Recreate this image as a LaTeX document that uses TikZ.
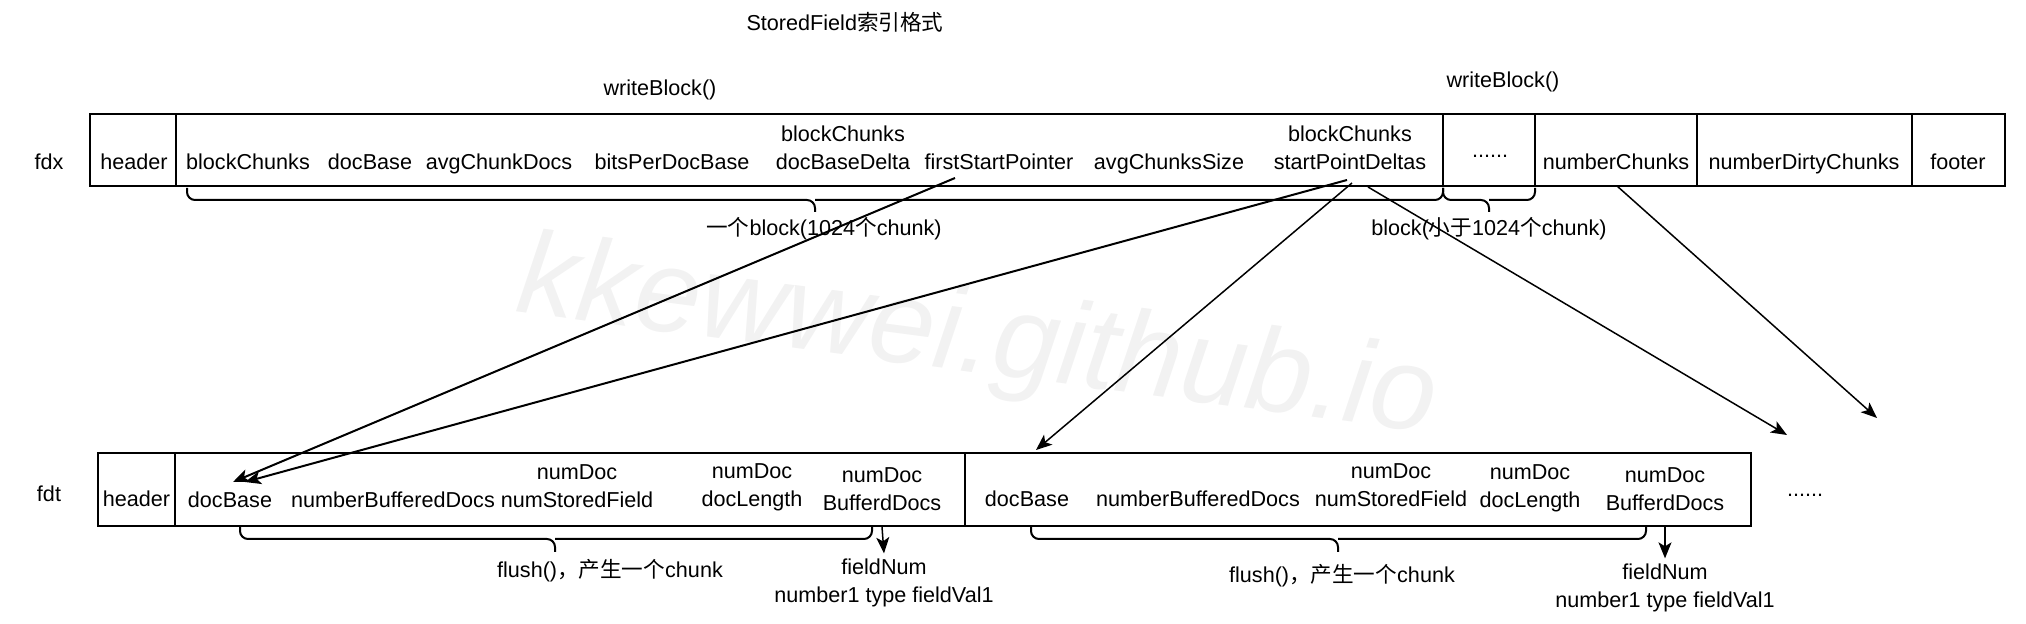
\documentclass[tikz,border=0pt]{standalone}
\usepackage{fontspec}
\setmainfont{Liberation Sans}
\newfontfamily\cjk{Noto Sans CJK SC}
\usetikzlibrary{arrows.meta,calc}
\newcommand\dfont{\fontsize{10.8}{14}\selectfont}
\begin{document}
\begin{tikzpicture}[x=0.5pt,y=-0.5pt,
  txt/.style={inner sep=0pt, outer sep=0pt, font=\dfont, align=center, anchor=base},
  cell/.style={draw, line width=1pt, inner sep=0pt},
  arr/.style={-{Stealth[length=8pt,width=6.5pt,inset=2pt]}, line width=1pt},
  arrthin/.style={arr, line width=0.75pt},
  brc/.style={line width=1pt, rounded corners=4pt},
  wm/.style={inner sep=0pt, text=black!5, font=\fontsize{59}{59}\selectfont\itshape}]
\useasboundingbox (0,0) rectangle (2026,624);
% watermark
\node[wm, rotate=-7.5] (wmk) at (977,342) {kkewwei.github.io};
% titles
\node[txt] (title) at (845,31) {StoredField{\cjk 索引格式}};
\node[txt] (wb1) at (660,96) {writeBlock()};
\node[txt] (wb2) at (1503,88) {writeBlock()};
% fdx cells
\node[cell, minimum width=43pt, minimum height=36pt] (fdxh) at (133,150) {};
\node[cell, minimum width=633.5pt, minimum height=36pt] (fdxb) at (809.5,150) {};
\node[cell, minimum width=46pt, minimum height=36pt] (fdxd) at (1489,150) {};
\node[cell, minimum width=81pt, minimum height=36pt] (fdxnc) at (1616,150) {};
\node[cell, minimum width=107.5pt, minimum height=36pt] (fdxndc) at (1804.5,150) {};
\node[cell, minimum width=46.5pt, minimum height=36pt] (fdxf) at (1958.5,150) {};
% fdx texts
\node[txt] (lfdx) at (49,170) {fdx};
\node[txt] (t1) at (134,170) {header};
\node[txt] (t2) at (248,170) {blockChunks};
\node[txt] (t3) at (370,170) {docBase};
\node[txt] (t4) at (499,170) {avgChunkDocs};
\node[txt] (t5) at (672,170) {bitsPerDocBase};
\node[txt] (t6) at (843,170) {blockChunks\\docBaseDelta};
\node[txt] (fsp) at (999,170) {firstStartPointer};
\node[txt] (t8) at (1169,170) {avgChunksSize};
\node[txt] (spd) at (1350,170) {blockChunks\\startPointDeltas};
\node[txt] (t10) at (1490,158) {......};
\node[txt] (nc) at (1616,170) {numberChunks};
\node[txt] (t12) at (1804,170) {numberDirtyChunks};
\node[txt] (t13) at (1958,170) {footer};
% fdx braces
\draw[brc] (187,188) -- (187,200) -- (815,200) -- (815,212);
\draw[brc] (1443,188) -- (1443,200) -- (815,200);
\draw[brc] (1443,188) -- (1443,200) -- (1489,200) -- (1489,212);
\draw[brc] (1535,188) -- (1535,200) -- (1489,200);
\node[txt] (b1) at (824,236) {{\cjk 一个}block(1024{\cjk 个}chunk)};
\node[txt] (b2) at (1489,236) {block({\cjk 小于}1024{\cjk 个}chunk)};
% fdt cells
\node[cell, minimum width=38.5pt, minimum height=36.5pt] (fdth) at (136.5,489.5) {};
\node[cell, minimum width=395pt, minimum height=36.5pt] (fdtc1) at (570,489.5) {};
\node[cell, minimum width=393pt, minimum height=36.5pt] (fdtc2) at (1358,489.5) {};
% fdt texts
\node[txt] (lfdt) at (49,502) {fdt};
\node[txt] (u0) at (136.5,507) {header};
\node[txt] (db1) at (230,508) {docBase};
\node[txt] (u2) at (393,508) {numberBufferedDocs};
\node[txt] (u3) at (577,508) {numDoc\\numStoredField};
\node[txt] (u4) at (752,507) {numDoc\\docLength};
\node[txt] (bd1) at (882,511) {numDoc\\BufferdDocs};
\node[txt] (db2) at (1027,507) {docBase};
\node[txt] (v2) at (1198,507) {numberBufferedDocs};
\node[txt] (v3) at (1391,507) {numDoc\\numStoredField};
\node[txt] (v4) at (1530,508) {numDoc\\docLength};
\node[txt] (bd2) at (1665,511) {numDoc\\BufferdDocs};
\node[txt] (dots2) at (1805,497) {......};
% fdt braces
\draw[brc] (240,527) -- (240,539) -- (555,539) -- (555,552);
\draw[brc] (872,527) -- (872,539) -- (555,539);
\draw[brc] (1031,527) -- (1031,539) -- (1338,539) -- (1338,552);
\draw[brc] (1646,527) -- (1646,539) -- (1338,539);
\node[txt] (fl1) at (610,578) {flush(){\cjk ，产生一个}chunk};
\node[txt] (fl2) at (1342,583) {flush(){\cjk ，产生一个}chunk};
\node[txt] (fn1) at (884,603) {fieldNum\\number1 type fieldVal1};
\node[txt] (fn2) at (1665,608) {fieldNum\\number1 type fieldVal1};
% short arrows
\draw[arrthin] (bd1.south |- fdtc1.south) -- ($(fn1.north)+(0,-6)$);
\draw[arrthin] (bd2.south |- fdtc2.south) -- ($(fn2.north)+(0,-6)$);
% long arrows
\coordinate (s1) at (955,178);
\coordinate (s2) at (1347,180);
\coordinate (s3) at (1352,183);
\coordinate (s4) at (1368,187);
\coordinate (s5) at (1617,186);
\coordinate (e1) at (233,482);
\coordinate (e2) at (245,482);
\coordinate (e3) at (1036,450);
\coordinate (e4) at (1787,435);
\coordinate (e5) at (1877,418);
\draw[arr] (s1) -- (e1);
\draw[arr] (s2) -- (e2);
\draw[arrthin] (s3) -- (e3);
\draw[arrthin] (s4) -- (e4);
\draw[arrthin] (s5) -- (e5);
\end{tikzpicture}
\end{document}
